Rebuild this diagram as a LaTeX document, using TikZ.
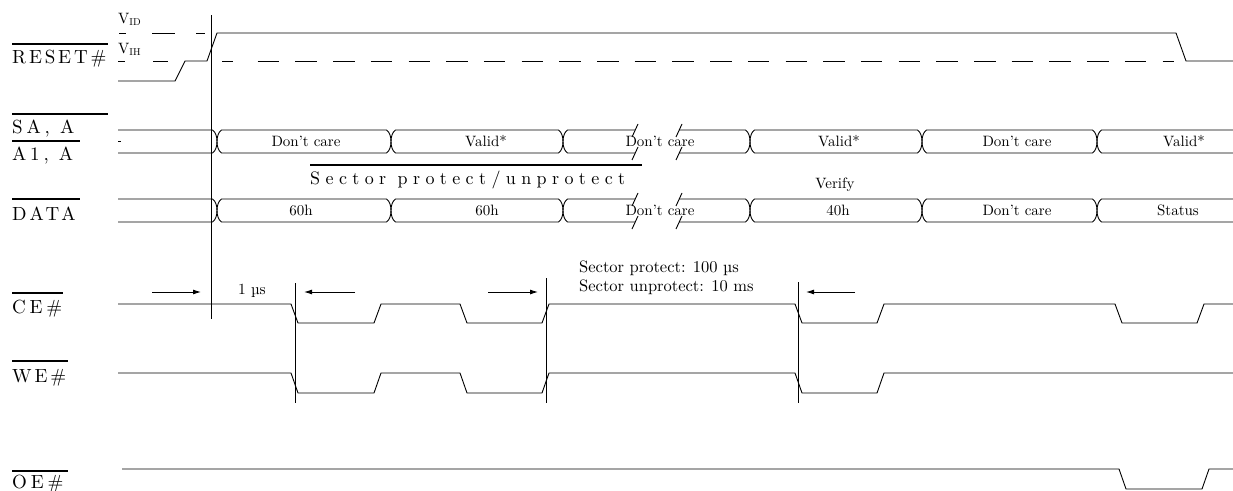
\documentclass[tikz,border=0pt]{standalone}
\usepackage{fontspec}
\setmainfont{lmroman10-regular.otf}
\usetikzlibrary{arrows.meta}
\newcommand\biglbl{\fontsize{19}{19}\selectfont\addfontfeatures{LetterSpace=15}}
\newcommand\sectlbl{\fontsize{18}{18}\selectfont\addfontfeatures{LetterSpace=30}}
\newcommand\smalltxt{\fontsize{15}{15}\selectfont}
\newcommand\notetxt{\fontsize{15.5}{15.5}\selectfont}
\newcommand\sidenotetxt{\fontsize{16.5}{16.5}\selectfont}
\newcommand\vtxt{\fontsize{15}{15}\selectfont}
% closed bus segment: xa xb yt ym yb
\newcommand\busclosed[5]{\draw[sig] ({#1+4.5},#3) -- ({#2-4.5},#3) .. controls ({#2-1.5},{#3+2}) and (#2,{#4-5}) .. (#2,#4) .. controls (#2,{#4+5}) and ({#2-1.5},{#5-2}) .. ({#2-4.5},#5) -- ({#1+4.5},#5) .. controls ({#1+1.5},{#5-2}) and (#1,{#4+5}) .. (#1,#4) .. controls (#1,{#4-5}) and ({#1+1.5},{#3+2}) .. cycle;}
\newcommand\busfirst[5]{\draw[sig] (#1,#3) -- ({#2-4.5},#3) .. controls ({#2-1.5},{#3+2}) and (#2,{#4-5}) .. (#2,#4) .. controls (#2,{#4+5}) and ({#2-1.5},{#5-2}) .. ({#2-4.5},#5) -- (#1,#5);}
\newcommand\buslast[5]{\draw[sig] (#2,#3) -- ({#1+4.5},#3) .. controls ({#1+1.5},{#3+2}) and (#1,{#4-5}) .. (#1,#4) .. controls (#1,{#4+5}) and ({#1+1.5},{#5-2}) .. ({#1+4.5},#5) -- (#2,#5);}
% broken segment: xa xb yt ym yb bx1 bx2
\newcommand\busbreak[7]{%
\draw[sig] (#6,#3) -- ({#1+4.5},#3) .. controls ({#1+1.5},{#3+2}) and (#1,{#4-5}) .. (#1,#4) .. controls (#1,{#4+5}) and ({#1+1.5},{#5-2}) .. ({#1+4.5},#5) -- (#6,#5);
\draw[sig] (#7,#3) -- ({#2-4.5},#3) .. controls ({#2-1.5},{#3+2}) and (#2,{#4-5}) .. (#2,#4) .. controls (#2,{#4+5}) and ({#2-1.5},{#5-2}) .. ({#2-4.5},#5) -- (#7,#5);
\draw[sig] ({#6-3},{#3+7}) -- ({#6+3},{#3-6}) ({#7-3},{#3+7}) -- ({#7+3},{#3-6})
           ({#6-3},{#5+7}) -- ({#6+3},{#5-6}) ({#7-3},{#5+7}) -- ({#7+3},{#5-6});}
\begin{document}
\begin{tikzpicture}[x=1pt,y=-1pt,
  sig/.style={line width=0.9pt, line join=miter},
  obar/.style={line width=1.7pt},
  lbl/.style={anchor=base west, inner sep=0pt, font=\biglbl},
  small/.style={anchor=base, inner sep=0pt, font=\smalltxt},
  note/.style={anchor=base west, inner sep=0pt, font=\sidenotetxt},
  arr/.style={line width=0.9pt, -{Latex[length=8pt,width=5pt]}},
]
\useasboundingbox (0,0) rectangle (1233,490);

% ---------- left labels ----------
\node[lbl] (lreset) at (12,63) {RESET\#};
\draw[obar] (12,44) -- (108,44);
\node[lbl, font=\biglbl\addfontfeatures{LetterSpace=20}] (lsa) at (12,133) {SA, A};
\draw[obar] (12,114) -- (108,114);
\node[lbl, font=\biglbl\addfontfeatures{LetterSpace=20}] (la1) at (12,160) {A1, A};
\draw[obar] (12,141) -- (80,141);
\node[lbl, font=\biglbl\addfontfeatures{LetterSpace=18}] (ldata) at (12,220) {DATA};
\draw[obar] (12,199) -- (80,199);
\node[lbl, font=\biglbl\addfontfeatures{LetterSpace=20}] (lce) at (12,313) {CE\#};
\draw[obar] (12,293) -- (63,293);
\node[lbl, font=\biglbl\addfontfeatures{LetterSpace=15}] (lwe) at (12,382) {WE\#};
\draw[obar] (12,361) -- (68,361);
\node[lbl, font=\biglbl\addfontfeatures{LetterSpace=20}] (loe) at (12,488) {OE\#};
\draw[obar] (12,471) -- (68,471);

% ---------- RESET# ----------
\node[anchor=base west, inner sep=0pt, font=\vtxt] (vid) at (118,23) {V\textsubscript{\fontsize{10}{10}\selectfont ID}};
\node[anchor=base west, inner sep=0pt, font=\vtxt] (vih) at (118,53) {V\textsubscript{\fontsize{10}{10}\selectfont IH}};
\draw[sig] (119,33)--(126,33) (152,33)--(175,33) (196,33)--(205,33);
\draw[sig] (118,61)--(125,61) (153,61)--(168,61) (222,61)--(233,61);
\draw[sig, dash pattern=on 21.5pt off 16.2pt] (257.7,61) -- (1174,61);
\draw[sig] (118,81) -- (175,81) -- (185,61) -- (207,61) -- (217,33) -- (1176,33) -- (1186,61) -- (1233,61);

% ---------- address bus ----------
\draw[sig] (118,141) -- (121,141);
\busfirst{118}{217}{130}{141.5}{153}
\busclosed{217}{391}{130}{141.5}{153}
\busclosed{391}{563}{130}{141.5}{153}
\busbreak{563}{750}{130}{141.5}{153}{635}{679}
\busclosed{750}{922}{130}{141.5}{153}
\busclosed{922}{1097}{130}{141.5}{153}
\buslast{1097}{1233}{130}{141.5}{153}
\node[small] (a1) at (306,146) {Don't care};
\node[small] (a2) at (486,146) {Valid*};
\node[small] (a3) at (660,146) {Don't care};
\node[small] (a4) at (839,146) {Valid*};
\node[small] (a5) at (1017,146) {Don't care};
\node[small] (a6) at (1184,146) {Valid*};

% ---------- sector protect label ----------
\node[anchor=base west, inner sep=0pt, font=\sectlbl] (sect) at (310,184) {Sector protect/unprotect};
\draw[obar] (310,165) -- (642,165);
\node[small] (verify) at (835,188) {Verify};

% ---------- data bus ----------
\busfirst{118}{217}{199}{210.5}{222}
\busclosed{217}{391}{199}{210.5}{222}
\busclosed{391}{563}{199}{210.5}{222}
\busbreak{563}{750}{199}{210.5}{222}{635}{679}
\busclosed{750}{922}{199}{210.5}{222}
\busclosed{922}{1097}{199}{210.5}{222}
\buslast{1097}{1233}{199}{210.5}{222}
\node[small] (d1) at (301,215) {60h};
\node[small] (d2) at (487,215) {60h};
\node[small] (d3) at (660,215) {Don't care};
\node[small] (d4) at (838,215) {40h};
\node[small] (d5) at (1017,215) {Don't care};
\node[small] (d6) at (1178,215) {Status};

% ---------- timing markers ----------
\draw[sig] (211,15) -- (211,319);
\draw[sig] (295,283) -- (295,403);
\draw[sig] (546,278) -- (546,403);
\draw[sig] (798,282) -- (798,403);
\coordinate (r1s) at (152,292); \coordinate (r1e) at (201,292);
\coordinate (l1s) at (355,292); \coordinate (l1e) at (304,292);
\coordinate (r2s) at (488,292); \coordinate (r2e) at (538,292);
\coordinate (l2s) at (855,292); \coordinate (l2e) at (806,292);
\draw[arr] (r1s) -- (r1e);
\draw[arr] (l1s) -- (l1e);
\draw[arr] (r2s) -- (r2e);
\draw[arr] (l2s) -- (l2e);
\node[small, font=\notetxt] (t1) at (252,294) {1 µs};
\node[note] (t2) at (579,272) {Sector protect: 100 µs};
\node[note] (t3) at (579,291) {Sector unprotect: 10 ms};

% ---------- CE#, WE#, OE# ----------
\draw[sig] (118,304) -- (291,304) -- (298,323) -- (374,323) -- (381,304) -- (460,304) -- (467,323) -- (542,323) -- (549,304) -- (795,304) -- (802,323) -- (877,323) -- (884,304) -- (1115,304) -- (1122,323) -- (1197,323) -- (1204,304) -- (1233,304);
\draw[sig] (118,373) -- (291,373) -- (298,393) -- (374,393) -- (381,373) -- (460,373) -- (467,393) -- (542,393) -- (549,373) -- (795,373) -- (802,393) -- (877,393) -- (884,373) -- (1233,373);
\draw[sig] (122,469) -- (1119,469) -- (1126,489) -- (1202,489) -- (1209,469) -- (1233,469);
\end{tikzpicture}
\end{document}
